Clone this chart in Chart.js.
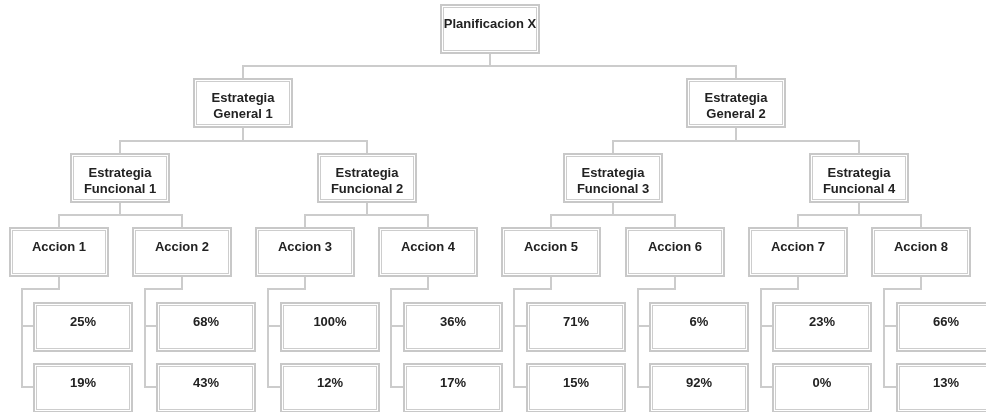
<!DOCTYPE html>
<html>
<head>
<meta charset="utf-8">
<script src="https://cdn.jsdelivr.net/npm/chart.js@4"></script>
<style>
  body { margin: 0; background: #fff; }
  #wrap { width: 986px; height: 412px; }
</style>
</head>
<body>
<div id="wrap"><canvas id="orgChart"></canvas></div>
<script>
// datos del organigrama
const raiz = 'Planificacion X';
const generales = ['Estrategia\nGeneral 1', 'Estrategia\nGeneral 2'];
const funcionales = ['Estrategia\nFuncional 1', 'Estrategia\nFuncional 2', 'Estrategia\nFuncional 3', 'Estrategia\nFuncional 4'];
const acciones = ['Accion 1', 'Accion 2', 'Accion 3', 'Accion 4', 'Accion 5', 'Accion 6', 'Accion 7', 'Accion 8'];
const avanceA = [25, 68, 100, 36, 71, 6, 23, 66];
const avanceB = [19, 43, 12, 17, 15, 92, 0, 13];

const ANCHO = 100, ALTO = 50;

// armar el arbol: cada padre queda centrado sobre sus hijos
const accionNodos = acciones.map((t, i) => ({ label: t, x: i, y: 3 }));
const funcNodos = funcionales.map((t, k) => ({
  label: t, x: (accionNodos[2 * k].x + accionNodos[2 * k + 1].x) / 2, y: 2
}));
accionNodos.forEach((n, i) => n.padre = funcNodos[Math.floor(i / 2)]);
const genNodos = generales.map((t, k) => ({
  label: t, x: (funcNodos[2 * k].x + funcNodos[2 * k + 1].x) / 2, y: 1
}));
funcNodos.forEach((n, k) => n.padre = genNodos[Math.floor(k / 2)]);
const raizNodo = { label: raiz, x: (genNodos[0].x + genNodos[1].x) / 2, y: 0 };
genNodos.forEach(n => n.padre = raizNodo);

const arbol = [raizNodo, ...genNodos, ...funcNodos, ...accionNodos];

const pctNodos = [];
avanceA.forEach((v, i) => pctNodos.push({ label: v + '%', x: i, y: 4, padre: i }));
avanceB.forEach((v, i) => pctNodos.push({ label: v + '%', x: i, y: 4.83, padre: i }));

function caja(ctx, x, y, texto) {
  x = Math.round(x); y = Math.round(y);
  ctx.fillStyle = '#fff';
  ctx.fillRect(x, y, ANCHO, ALTO);
  ctx.strokeStyle = '#c8c8c8';
  ctx.lineWidth = 2;
  ctx.strokeRect(x + 1, y + 1, ANCHO - 2, ALTO - 2);
  ctx.lineWidth = 1;
  ctx.strokeStyle = '#cdcdcd';
  ctx.strokeRect(x + 3.5, y + 3.5, ANCHO - 7, ALTO - 7);
  ctx.fillStyle = '#222';
  ctx.font = 'bold 13px "Liberation Sans", Arial, sans-serif';
  ctx.textAlign = 'center';
  ctx.textBaseline = 'middle';
  texto.split('\n').forEach((l, i) => ctx.fillText(l, x + ANCHO / 2, y + 20 + i * 16));
}

function linea(ctx, pts) {
  ctx.beginPath();
  pts.forEach((p, i) => {
    const px = Math.round(p[0]), py = Math.round(p[1]);
    if (i === 0) ctx.moveTo(px, py); else ctx.lineTo(px, py);
  });
  ctx.stroke();
}

const orgPlugin = {
  id: 'orgBoxes',
  afterDatasetsDraw(chart) {
    const ctx = chart.ctx;
    const mA = chart.getDatasetMeta(0).data;
    const mP = chart.getDatasetMeta(1).data;
    const accMeta = mA.slice(arbol.length - accionNodos.length);
    ctx.save();
    ctx.strokeStyle = '#cccccc';
    ctx.lineWidth = 2;
    ctx.lineJoin = 'miter';
    arbol.forEach((n, i) => {
      if (!n.padre) return;
      const p = mA[arbol.indexOf(n.padre)];
      const c = mA[i];
      const midY = (p.y + ALTO + c.y) / 2;
      linea(ctx, [[p.x, p.y + ALTO], [p.x, midY], [c.x, midY], [c.x, c.y]]);
    });
    pctNodos.forEach((n, j) => {
      const a = accMeta[n.padre];
      const c = mP[j];
      const codoY = a.y + ALTO + 11.5;
      linea(ctx, [[a.x, a.y + ALTO], [a.x, codoY], [a.x - 37, codoY], [a.x - 37, c.y + 24], [c.x - 25.5, c.y + 24]]);
    });
    arbol.forEach((n, i) => caja(ctx, mA[i].x - ANCHO / 2, mA[i].y, n.label));
    pctNodos.forEach((n, j) => caja(ctx, mP[j].x - 25.5, mP[j].y, n.label));
    ctx.restore();
  }
};

new Chart(document.getElementById('orgChart'), {
  type: 'scatter',
  data: {
    datasets: [
      { label: 'estructura', data: arbol.map(n => ({ x: n.x, y: n.y })), pointRadius: 0 },
      { label: 'avance', data: pctNodos.map(n => ({ x: n.x, y: n.y })), pointRadius: 0 }
    ]
  },
  options: {
    responsive: true,
    maintainAspectRatio: false,
    animation: false,
    layout: { padding: 0 },
    events: [],
    scales: {
      x: { type: 'linear', display: false, min: -0.4765, max: 7.527 },
      y: { type: 'linear', display: false, reverse: true, min: -0.0538, max: 5.4839 }
    },
    plugins: {
      legend: { display: false },
      tooltip: { enabled: false }
    }
  },
  plugins: [orgPlugin]
});
</script>
</body>
</html>
